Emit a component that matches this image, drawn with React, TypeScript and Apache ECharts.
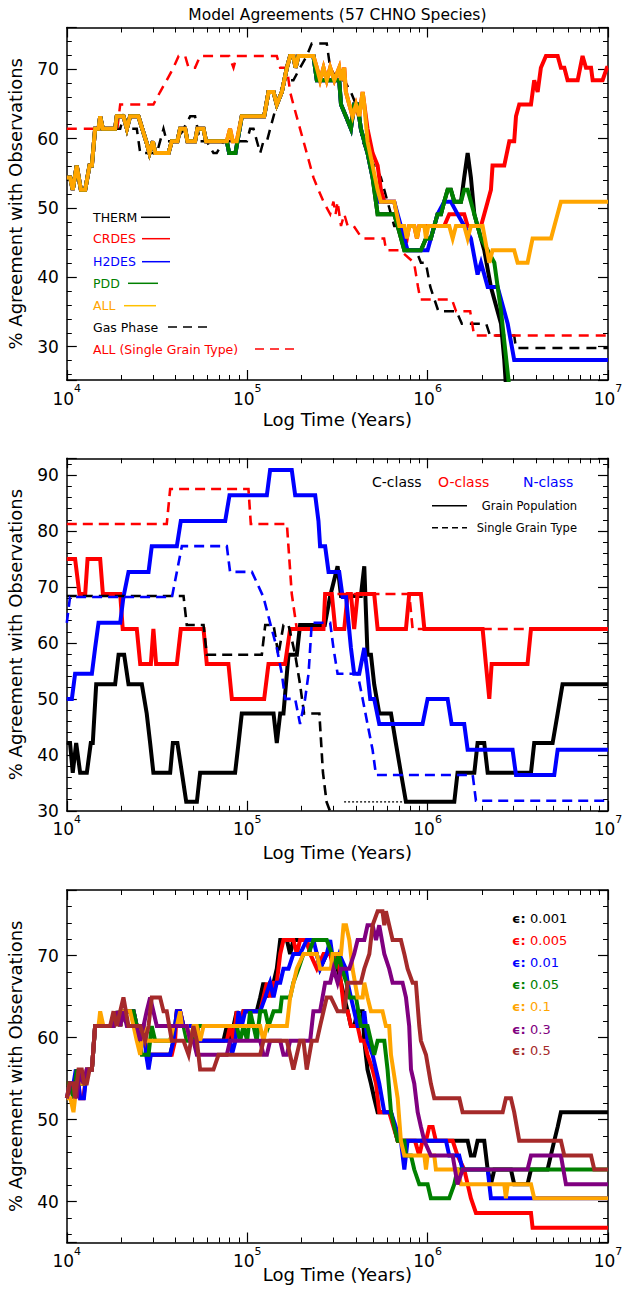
import React, { useEffect, useRef } from "react";
import * as echarts from "echarts";

type P = [number, number][];

// ---------- Panel 1 (log10 time, % agreement) ----------
const p1Early: P = [[4.000,54.4],[4.018,54.4],[4.033,52.6],[4.055,56.1],[4.078,52.6],[4.102,52.6],[4.126,56.1],[4.139,56.1],[4.157,61.4],[4.176,61.4],[4.185,63.2],[4.200,61.4],[4.268,61.4],[4.277,63.2],[4.314,63.2],[4.333,61.4],[4.351,63.2],[4.397,63.2],[4.440,59.6],[4.458,57.9],[4.477,59.6],[4.491,57.9],[4.564,57.9],[4.582,59.6],[4.613,59.6],[4.628,61.4],[4.656,61.4],[4.669,59.6],[4.711,59.6],[4.724,61.4],[4.758,61.4],[4.772,59.6],[4.887,59.6]];
const p1AllMid: P = [[4.905,61.4],[4.920,59.6],[4.942,59.6],[4.970,63.2],[5.094,63.2],[5.118,66.7],[5.146,66.7],[5.164,64.9],[5.192,66.7],[5.220,70.2],[5.238,71.9],[5.256,71.9],[5.268,70.2],[5.284,71.9],[5.367,71.9],[5.386,70.2],[5.404,68.4],[5.423,70.2],[5.441,68.4],[5.460,70.2],[5.483,68.4],[5.510,70.2],[5.520,68.4],[5.538,70.2],[5.547,66.7],[5.566,64.9],[5.584,63.2],[5.603,64.9],[5.621,63.2],[5.640,66.7],[5.649,64.9]];
const p1AllTail: P = [[5.667,59.6],[5.695,56.1],[5.723,52.6],[5.741,50.9],[5.815,50.9],[5.843,47.4],[5.871,47.4],[5.885,45.6],[5.898,47.4],[5.926,47.4],[5.941,45.6],[5.954,47.4],[5.982,47.4],[5.991,45.6],[6.004,47.4],[6.120,47.4],[6.139,45.6],[6.157,47.4],[6.203,47.4],[6.222,45.6],[6.240,47.4],[6.305,47.4],[6.342,42.1],[6.360,43.9],[6.480,43.9],[6.499,42.1],[6.554,42.1],[6.582,45.6],[6.684,45.6],[6.739,50.9],[7.0,50.9]];
const p1CrdesTail: P = [[5.667,61.4],[5.695,57.9],[5.723,56.1],[5.741,52.6],[5.760,50.9],[5.815,50.9],[5.843,47.4],[5.885,45.6],[5.898,47.4],[5.926,47.4],[5.941,45.6],[5.954,47.4],[6.092,47.4],[6.120,49.1],[6.203,49.1],[6.222,47.4],[6.296,47.4],[6.333,50.9],[6.351,52.6],[6.360,56.1],[6.425,56.1],[6.453,59.6],[6.480,59.6],[6.490,63.2],[6.508,64.9],[6.573,64.9],[6.591,68.4],[6.610,66.7],[6.628,70.2],[6.656,71.9],[6.721,71.9],[6.739,70.2],[6.758,70.2],[6.776,68.4],[6.832,68.4],[6.859,71.9],[6.878,70.2],[6.906,70.2],[6.915,68.4],[6.970,68.4],[6.994,70.2],[7.0,70.2]];
const p1GrainMid: P = [[4.900,57.9],[4.935,57.9],[4.970,63.2],[5.094,63.2],[5.118,66.7],[5.146,66.7],[5.164,64.9],[5.192,66.7],[5.220,70.2],[5.238,71.9],[5.256,71.9],[5.268,70.2],[5.284,71.9],[5.367,71.9],[5.386,68.4],[5.510,68.4],[5.520,64.9],[5.547,63.2],[5.575,61.4],[5.593,64.9],[5.612,64.9],[5.630,61.4],[5.667,57.9],[5.695,54.4]];
const p1PddTail: P = [[5.723,49.1],[5.815,49.1],[5.834,47.4],[5.871,43.9],[5.963,43.9],[5.991,45.6],[6.018,45.6],[6.037,47.4],[6.055,49.1],[6.074,49.1],[6.092,50.9],[6.111,52.6],[6.129,52.6],[6.148,50.9],[6.185,50.9],[6.203,52.6],[6.222,52.6],[6.259,49.1],[6.277,47.4],[6.296,45.6],[6.333,43.9],[6.370,42.1],[6.407,35.1],[6.470,20.0]];
const p1H2desTail: P = [[5.723,50.9],[5.815,50.9],[5.834,49.1],[5.871,45.6],[5.889,43.9],[6.000,43.9],[6.018,45.6],[6.037,47.4],[6.055,49.1],[6.092,50.9],[6.129,50.9],[6.166,49.1],[6.203,47.4],[6.240,45.6],[6.277,40.4],[6.296,42.1],[6.314,40.4],[6.333,38.6],[6.388,38.6],[6.444,33.3],[6.480,28.1],[7.0,28.1]];
const p1ThermTail: P = [[5.723,49.1],[5.815,49.1],[5.834,47.4],[5.871,43.9],[5.963,43.9],[5.991,45.6],[6.018,45.6],[6.037,47.4],[6.055,49.1],[6.074,49.1],[6.092,50.9],[6.111,52.6],[6.129,52.6],[6.148,50.9],[6.185,50.9],[6.203,54.4],[6.222,57.9],[6.240,54.4],[6.259,49.1],[6.277,47.4],[6.296,45.6],[6.314,43.9],[6.351,38.6],[6.407,33.3],[6.425,28.1],[6.445,20.0]];
const p1GasPhase: P = [[4.000,54.4],[4.018,54.4],[4.033,52.6],[4.055,56.1],[4.078,52.6],[4.102,52.6],[4.126,56.1],[4.139,56.1],[4.157,61.4],[4.296,61.4],[4.314,63.2],[4.360,61.4],[4.388,61.4],[4.407,57.9],[4.499,57.9],[4.517,59.6],[4.536,61.4],[4.554,59.6],[4.610,59.6],[4.684,63.2],[4.711,63.2],[4.739,59.6],[4.776,59.6],[4.813,57.9],[4.831,57.9],[4.868,59.6],[4.998,59.6],[5.016,61.4],[5.035,61.4],[5.072,57.9],[5.090,59.6],[5.109,59.6],[5.146,63.2],[5.183,66.7],[5.210,68.4],[5.256,68.4],[5.293,70.2],[5.330,71.9],[5.358,73.7],[5.441,73.7],[5.460,70.2],[5.501,68.4],[5.538,68.4],[5.575,66.7],[5.603,64.9],[5.640,59.6],[5.667,57.9],[5.704,56.1],[5.741,54.4],[5.778,50.9],[5.815,47.4],[5.852,47.4],[5.889,43.9],[5.936,43.9],[5.963,42.1],[5.990,42.1],[6.015,38.6],[6.060,35.1],[6.160,35.1],[6.190,33.3],[6.325,33.3],[6.346,31.6],[6.480,31.6],[6.490,29.8],[7.0,29.8]];
const p1SingleGrain: P = [[4.000,61.4],[4.280,61.4],[4.296,64.9],[4.480,64.9],[4.517,66.7],[4.554,68.4],[4.591,70.2],[4.620,71.9],[4.656,71.9],[4.675,70.2],[4.711,70.2],[4.739,71.9],[4.900,71.9],[4.924,70.2],[4.942,71.9],[5.164,71.9],[5.183,70.2],[5.220,70.2],[5.238,66.7],[5.256,64.9],[5.293,61.4],[5.330,57.9],[5.367,54.4],[5.395,52.6],[5.423,50.9],[5.460,49.1],[5.478,50.9],[5.490,49.1],[5.501,50.9],[5.520,47.4],[5.538,49.1],[5.557,47.4],[5.590,47.4],[5.637,45.6],[5.759,45.6],[5.770,43.9],[5.847,43.9],[5.925,42.1],[5.947,38.6],[5.960,36.8],[6.135,36.8],[6.158,35.1],[6.236,35.1],[6.258,31.6],[7.0,31.6]];

// ---------- Panel 2 ----------
const p2C: P = [[4.000,42.1],[4.018,42.1],[4.033,36.8],[4.052,42.1],[4.074,36.8],[4.111,36.8],[4.133,42.1],[4.144,42.1],[4.163,52.6],[4.268,52.6],[4.287,57.9],[4.318,57.9],[4.342,52.6],[4.416,52.6],[4.443,47.4],[4.462,42.1],[4.480,36.8],[4.573,36.8],[4.588,42.1],[4.613,42.1],[4.638,36.8],[4.662,31.6],[4.721,31.6],[4.739,36.8],[4.933,36.8],[4.952,42.1],[4.970,47.4],[5.146,47.4],[5.164,42.1],[5.183,47.4],[5.201,47.4],[5.229,57.9],[5.275,57.9],[5.293,63.2],[5.430,63.2],[5.460,68.4],[5.501,73.7],[5.520,68.4],[5.630,68.4],[5.649,73.7],[5.667,57.9],[5.686,57.9],[5.704,52.6],[5.732,47.4],[5.797,47.4],[5.824,42.1],[5.852,36.8],[5.880,31.6],[6.148,31.6],[6.166,36.8],[6.259,36.8],[6.277,42.1],[6.314,42.1],[6.333,36.8],[6.573,36.8],[6.591,42.1],[6.693,42.1],[6.721,47.4],[6.748,52.6],[7.0,52.6]];
const p2O: P = [[4.000,75],[4.046,75],[4.070,68.75],[4.102,68.75],[4.115,75],[4.185,75],[4.200,68.75],[4.296,68.75],[4.310,62.5],[4.388,62.5],[4.407,56.25],[4.466,56.25],[4.480,62.5],[4.495,56.25],[4.610,56.25],[4.632,62.5],[4.758,62.5],[4.776,56.25],[4.896,56.25],[4.915,50],[5.094,50],[5.118,56.25],[5.210,56.25],[5.238,62.5],[5.423,62.5],[5.432,68.75],[5.469,68.75],[5.488,62.5],[5.538,62.5],[5.557,68.75],[5.575,68.75],[5.593,62.5],[5.612,68.75],[5.704,68.75],[5.723,62.5],[5.880,62.5],[5.898,68.75],[5.963,68.75],[5.982,62.5],[6.305,62.5],[6.323,56.25],[6.342,50],[6.355,56.25],[6.554,56.25],[6.573,62.5],[7.0,62.5]];
const p2N: P = [[4.000,50],[4.028,50],[4.046,54.5],[4.139,54.5],[4.157,59.1],[4.176,63.6],[4.296,63.6],[4.314,68.2],[4.342,72.7],[4.453,72.7],[4.471,77.3],[4.610,77.3],[4.632,81.8],[4.878,81.8],[4.902,86.4],[5.109,86.4],[5.127,90.9],[5.247,90.9],[5.266,86.4],[5.377,86.4],[5.395,81.8],[5.404,77.3],[5.432,77.3],[5.451,72.7],[5.510,72.7],[5.529,68.2],[5.548,68.2],[5.575,59.1],[5.593,54.5],[5.621,54.5],[5.649,59.1],[5.667,54.5],[5.682,50],[5.704,50],[5.732,45.5],[5.972,45.5],[6.000,50],[6.111,50],[6.133,45.5],[6.203,45.5],[6.222,40.9],[6.471,40.9],[6.490,36.4],[6.702,36.4],[6.721,40.9],[7.0,40.9]];
const p2CSingle: P = [[4.000,68.4],[4.647,68.4],[4.665,63.2],[4.758,63.2],[4.776,57.9],[5.081,57.9],[5.100,63.2],[5.146,63.2],[5.173,57.9],[5.201,63.2],[5.229,63.2],[5.266,57.9],[5.293,52.6],[5.315,47.4],[5.400,47.4],[5.420,36.8],[5.440,31.6],[5.470,29.0]];
const p2CSingleLate: P = [[5.537,31.6],[5.880,31.6]];
const p2OSingle: P = [[4.000,81.25],[4.554,81.25],[4.573,87.5],[5.007,87.5],[5.020,81.25],[5.220,81.25],[5.247,68.75],[5.275,62.5],[5.423,62.5],[5.432,68.75],[5.898,68.75],[5.917,62.5],[7.0,62.5]];
const p2NSingle: P = [[4.000,63.6],[4.018,68.2],[4.583,68.2],[4.610,72.7],[4.638,77.3],[4.887,77.3],[4.905,72.7],[5.026,72.7],[5.090,68.2],[5.127,63.6],[5.164,59.1],[5.192,54.5],[5.210,50],[5.266,50],[5.293,45.5],[5.321,50],[5.340,54.5],[5.358,63.6],[5.460,63.6],[5.478,59.1],[5.501,54.5],[5.612,54.5],[5.640,50],[5.667,45.5],[5.695,40.9],[5.714,36.4],[6.250,36.4],[6.268,31.8],[7.0,31.8]];

// ---------- Panel 3 ----------
const p3E0001: P = [[4.000,54.4],[4.020,54.4],[4.037,52.6],[4.055,56.1],[4.074,54.4],[4.100,54.4],[4.120,56.1],[4.139,56.1],[4.157,61.4],[4.259,61.4],[4.277,63.2],[4.296,61.4],[4.314,63.2],[4.370,63.2],[4.388,61.4],[4.425,61.4],[4.443,57.9],[4.573,57.9],[4.591,59.6],[4.610,63.2],[4.628,63.2],[4.647,61.4],[4.721,61.4],[4.739,59.6],[4.868,59.6],[4.887,61.4],[4.905,59.6],[4.924,61.4],[4.942,63.2],[4.961,61.4],[4.979,63.2],[5.053,63.2],[5.072,64.9],[5.090,66.7],[5.109,64.9],[5.127,66.7],[5.146,66.7],[5.164,68.4],[5.183,71.9],[5.220,71.9],[5.238,70.2],[5.256,71.9],[5.330,71.9],[5.349,70.2],[5.386,70.2],[5.404,68.4],[5.441,70.2],[5.478,70.2],[5.501,68.4],[5.520,66.7],[5.538,64.9],[5.557,63.2],[5.575,61.4],[5.593,61.4],[5.612,63.2],[5.640,63.2],[5.649,59.6],[5.667,56.1],[5.686,54.4],[5.704,52.6],[5.723,50.9],[5.797,50.9],[5.815,49.1],[5.834,47.4],[6.222,47.4],[6.240,45.6],[6.259,45.6],[6.277,47.4],[6.314,47.4],[6.333,43.9],[6.351,42.1],[6.370,43.9],[6.462,43.9],[6.480,42.1],[6.554,42.1],[6.573,43.9],[6.665,43.9],[6.702,47.4],[6.721,49.1],[6.739,50.9],[7.0,50.9]];
const p3E0005: P = [[4.000,54.4],[4.020,54.4],[4.037,52.6],[4.055,56.1],[4.074,52.6],[4.092,52.6],[4.111,56.1],[4.139,56.1],[4.157,61.4],[4.259,61.4],[4.277,63.2],[4.296,61.4],[4.314,63.2],[4.370,63.2],[4.388,61.4],[4.425,61.4],[4.443,57.9],[4.582,57.9],[4.600,59.6],[4.610,63.2],[4.628,63.2],[4.647,61.4],[4.721,61.4],[4.739,59.6],[4.887,59.6],[4.905,61.4],[4.924,59.6],[4.942,63.2],[4.961,61.4],[4.979,63.2],[5.072,63.2],[5.090,64.9],[5.109,66.7],[5.127,64.9],[5.146,66.7],[5.164,66.7],[5.183,70.2],[5.201,71.9],[5.256,71.9],[5.275,70.2],[5.293,71.9],[5.330,71.9],[5.349,70.2],[5.386,68.4],[5.423,70.2],[5.460,70.2],[5.478,68.4],[5.501,70.2],[5.520,66.7],[5.538,63.2],[5.557,63.2],[5.575,61.4],[5.612,61.4],[5.630,59.6],[5.649,59.6],[5.667,57.9],[5.695,56.1],[5.714,54.4],[5.732,50.9],[5.787,50.9],[5.834,47.4],[5.930,47.4],[5.954,45.6],[5.972,47.4],[5.991,47.4],[6.009,49.1],[6.028,49.1],[6.046,47.4],[6.139,47.4],[6.166,45.6],[6.203,43.9],[6.222,42.1],[6.240,40.4],[6.268,38.6],[6.573,38.6],[6.582,36.8],[7.0,36.8]];
const p3E001: P = [[4.000,52.6],[4.018,54.4],[4.037,54.4],[4.050,56.1],[4.065,54.4],[4.074,52.6],[4.095,52.6],[4.111,56.1],[4.139,56.1],[4.157,61.4],[4.259,61.4],[4.277,63.2],[4.296,61.4],[4.314,63.2],[4.370,63.2],[4.388,61.4],[4.425,61.4],[4.440,57.9],[4.453,56.1],[4.466,57.9],[4.573,57.9],[4.591,59.6],[4.610,63.2],[4.628,63.2],[4.647,61.4],[4.721,61.4],[4.739,59.6],[4.905,59.6],[4.915,57.9],[4.935,59.6],[4.952,63.2],[4.970,61.4],[4.989,63.2],[5.072,63.2],[5.100,64.9],[5.127,66.7],[5.146,64.9],[5.164,66.7],[5.183,66.7],[5.201,68.4],[5.229,68.4],[5.256,70.2],[5.293,70.2],[5.330,71.9],[5.367,71.9],[5.386,70.2],[5.404,68.4],[5.441,70.2],[5.460,71.9],[5.483,68.4],[5.510,70.2],[5.547,68.4],[5.557,66.7],[5.575,64.9],[5.593,63.2],[5.612,61.4],[5.640,61.4],[5.649,63.2],[5.667,59.6],[5.695,57.9],[5.714,56.1],[5.732,54.4],[5.760,50.9],[5.797,50.9],[5.824,49.1],[5.852,47.4],[5.871,43.9],[5.889,47.4],[6.102,47.4],[6.120,45.6],[6.175,45.6],[6.194,43.9],[6.333,43.9],[6.351,40.4],[7.0,40.4]];
const p3E005: P = [[4.000,54.4],[4.020,54.4],[4.037,52.6],[4.055,56.1],[4.074,54.4],[4.100,54.4],[4.120,56.1],[4.139,56.1],[4.157,61.4],[4.259,61.4],[4.277,63.2],[4.296,61.4],[4.314,63.2],[4.370,63.2],[4.388,61.4],[4.416,57.9],[4.453,57.9],[4.471,61.4],[4.490,59.6],[4.573,59.6],[4.591,61.4],[4.647,61.4],[4.665,59.6],[4.702,59.6],[4.721,61.4],[4.942,61.4],[4.961,59.6],[4.979,61.4],[5.000,59.6],[5.016,63.2],[5.035,61.4],[5.053,59.6],[5.072,63.2],[5.100,63.2],[5.118,61.4],[5.146,63.2],[5.183,63.2],[5.192,64.9],[5.238,64.9],[5.256,66.7],[5.284,68.4],[5.312,70.2],[5.340,70.2],[5.367,71.9],[5.441,71.9],[5.469,70.2],[5.488,68.4],[5.506,70.2],[5.525,68.4],[5.550,66.7],[5.566,64.9],[5.603,64.9],[5.630,61.4],[5.667,61.4],[5.686,59.6],[5.704,57.9],[5.723,59.6],[5.760,59.6],[5.778,56.1],[5.797,50.9],[5.815,49.1],[5.834,47.4],[5.871,47.4],[5.880,45.6],[5.908,45.6],[5.926,43.9],[5.954,42.1],[6.000,42.1],[6.018,40.4],[6.120,40.4],[6.148,42.1],[6.166,43.9],[7.0,43.9]];
const p3E01: P = [[4.000,52.6],[4.020,52.6],[4.037,50.9],[4.055,54.4],[4.092,54.4],[4.111,56.1],[4.139,56.1],[4.157,61.4],[4.176,61.4],[4.185,63.2],[4.203,61.4],[4.259,61.4],[4.277,63.2],[4.296,61.4],[4.314,63.2],[4.351,63.2],[4.370,61.4],[4.388,59.6],[4.407,57.9],[4.425,61.4],[4.443,59.6],[4.573,59.6],[4.591,61.4],[4.610,61.4],[4.628,63.2],[4.638,61.4],[4.665,61.4],[4.684,59.6],[4.702,61.4],[4.721,61.4],[4.739,59.6],[4.758,61.4],[5.072,61.4],[5.090,59.6],[5.109,61.4],[5.220,61.4],[5.238,64.9],[5.275,68.4],[5.312,70.2],[5.386,70.2],[5.404,68.4],[5.464,68.4],[5.473,70.2],[5.520,70.2],[5.534,73.7],[5.548,73.7],[5.566,71.9],[5.584,68.4],[5.612,64.9],[5.640,64.9],[5.649,66.7],[5.667,64.9],[5.686,63.2],[5.750,63.2],[5.769,61.4],[5.787,61.4],[5.797,57.9],[5.834,52.6],[5.852,47.4],[5.871,45.6],[5.982,45.6],[5.991,43.9],[6.000,45.6],[6.037,45.6],[6.046,43.9],[6.166,43.9],[6.185,42.1],[6.425,42.1],[6.434,40.4],[6.444,42.1],[6.573,42.1],[6.591,40.4],[7.0,40.4]];
const p3E03: P = [[4.000,52.6],[4.020,54.4],[4.037,54.4],[4.055,52.6],[4.074,56.1],[4.092,54.4],[4.111,56.1],[4.139,56.1],[4.157,61.4],[4.259,61.4],[4.277,63.2],[4.296,61.4],[4.314,63.2],[4.333,61.4],[4.388,61.4],[4.407,59.6],[4.425,61.4],[4.443,63.2],[4.462,64.9],[4.480,63.2],[4.499,61.4],[4.665,61.4],[4.684,59.6],[4.702,59.6],[4.721,57.9],[4.887,57.9],[4.905,59.6],[5.072,59.6],[5.090,57.9],[5.109,57.9],[5.127,59.6],[5.183,59.6],[5.201,57.9],[5.220,57.9],[5.238,59.6],[5.349,59.6],[5.367,63.2],[5.404,63.2],[5.432,66.7],[5.460,66.7],[5.478,68.4],[5.501,66.7],[5.520,68.4],[5.566,68.4],[5.593,70.2],[5.612,71.9],[5.649,71.9],[5.667,73.7],[5.695,73.7],[5.714,71.9],[5.732,73.7],[5.760,70.2],[5.787,68.4],[5.806,66.7],[5.861,66.7],[5.880,64.9],[5.898,61.4],[5.908,56.1],[5.926,54.4],[5.945,50.9],[5.963,49.1],[5.982,47.4],[6.018,45.6],[6.139,45.6],[6.166,42.1],[6.194,43.9],[6.554,43.9],[6.573,45.6],[6.739,45.6],[6.767,42.1],[7.0,42.1]];
const p3E05: P = [[4.000,52.6],[4.015,54.4],[4.037,54.4],[4.046,52.6],[4.065,56.1],[4.083,56.1],[4.096,54.4],[4.111,54.4],[4.126,56.1],[4.139,56.1],[4.157,61.4],[4.240,61.4],[4.259,63.2],[4.277,61.4],[4.296,63.2],[4.314,64.9],[4.342,61.4],[4.407,61.4],[4.434,59.6],[4.453,61.4],[4.471,64.9],[4.517,64.9],[4.536,63.2],[4.554,63.2],[4.582,59.6],[4.647,59.6],[4.675,57.9],[4.702,61.4],[4.721,59.6],[4.739,56.1],[4.813,56.1],[4.841,57.9],[5.072,57.9],[5.090,59.6],[5.220,59.6],[5.256,56.1],[5.293,59.6],[5.312,59.6],[5.330,56.1],[5.358,59.6],[5.386,59.6],[5.404,61.4],[5.423,63.2],[5.441,64.9],[5.464,64.9],[5.501,63.2],[5.538,63.2],[5.557,66.7],[5.630,66.7],[5.649,68.4],[5.677,70.2],[5.695,73.7],[5.723,75.4],[5.750,75.4],[5.760,73.7],[5.769,75.4],[5.787,73.7],[5.806,71.9],[5.852,71.9],[5.871,70.2],[5.889,68.4],[5.917,66.7],[5.935,66.7],[5.954,61.4],[5.963,59.6],[5.991,57.9],[6.018,54.4],[6.037,52.6],[6.176,52.6],[6.194,50.9],[6.416,50.9],[6.434,52.6],[6.462,52.6],[6.480,50.9],[6.508,47.4],[6.739,47.4],[6.758,45.6],[6.906,45.6],[6.924,43.9],[7.0,43.9]];

// ---------- axis ticks / labels ----------
const timeMin = 1e4;
const timeMax = 1e7;
const yRanges: [number, number][] = [[25.2, 76], [30, 93], [35, 78]];
const yMinLabel = [false, true, false];

const p1Labels = ["THERM", "CRDES", "H2DES", "PDD", "ALL", "Gas Phase", "ALL (Single Grain Type)"];
const p2ClassLabels = ["C-class", "O-class", "N-class"];
const p2StyleLabels = ["Grain Population", "Single Grain Type"];
const p3Labels = ["0.001", "0.005", "0.01", "0.05", "0.1", "0.3", "0.5"];

const FONT = '"DejaVu Sans", Verdana, sans-serif';
const BLACK = "#000000";
const RED = "#ff0000";
const BLUE = "#0000ff";
const GREEN = "#008000";
const ORANGE = "#ffa500";
const PURPLE = "#800080";
const BROWN = "#a52a2a";

const GRID_LEFT = 66.8;
const GRID_W = 541.2;
const GRID_TOPS = [27.5, 458.3, 890];
const GRID_H = 352.5;

function App() {
  const ref = useRef<HTMLDivElement>(null);
  useEffect(() => {
    if (!ref.current) return;
    const chart = echarts.init(ref.current, null, { renderer: "svg" });

    const toXY = (d: P) => d.map(([lt, v]) => [Math.pow(10, lt), v]);
    const line = (g: number, d: P, color: string, width: number, dash?: number[] | string) => ({
      type: "line",
      xAxisIndex: g * 2,
      yAxisIndex: g * 2,
      data: toXY(d),
      symbol: "none",
      showSymbol: false,
      silent: true,
      clip: true,
      lineStyle: { color, width, type: dash || "solid", cap: "butt", join: "miter" },
      emphasis: { disabled: true },
    });

    const xAxes: any[] = [];
    const yAxes: any[] = [];
    const grids: any[] = [];
    for (let g = 0; g < 3; g++) {
      grids.push({ left: GRID_LEFT, top: GRID_TOPS[g], width: GRID_W, height: GRID_H, containLabel: false, outerBoundsMode: "none" });
      const common = {
        gridIndex: g,
        axisLine: { show: true, onZero: false, lineStyle: { color: BLACK, width: 1.5 } },
        axisTick: { show: true, inside: true, length: 10, lineStyle: { color: BLACK, width: 1.2 } },
        splitLine: { show: false },
        minorSplitLine: { show: false },
      };
      for (const pos of ["bottom", "top"]) {
        xAxes.push({
          ...common,
          type: "log",
          logBase: 10,
          min: timeMin,
          max: timeMax,
          position: pos,
          minorTick: { show: true, splitNumber: 9, length: 5, lineStyle: { color: BLACK, width: 1 } },
          axisLabel: pos === "bottom" ? {
            show: true,
            margin: 3,
            formatter: (v: number) => `{b|10}{s|${Math.round(Math.log10(v))}}`,
            rich: {
              b: { fontSize: 17, fontFamily: FONT, color: BLACK, lineHeight: 24, verticalAlign: "bottom" },
              s: { fontSize: 11, fontFamily: FONT, color: BLACK, lineHeight: 24, verticalAlign: "top" },
            },
          } : { show: false },
        });
      }
      for (const pos of ["left", "right"]) {
        yAxes.push({
          ...common,
          type: "value",
          min: yRanges[g][0],
          max: yRanges[g][1],
          splitNumber: 5,
          position: pos,
          minorTick: { show: true, splitNumber: 5, length: 5, lineStyle: { color: BLACK, width: 1 } },
          axisLabel: pos === "left" ? {
            show: true, margin: 8, fontSize: 17, fontFamily: FONT, color: BLACK,
            showMinLabel: yMinLabel[g], showMaxLabel: false,
          } : { show: false },
        });
      }
    }

    const series: any[] = [
      line(0, p1GasPhase, BLACK, 2.5, [10, 7]),
      line(0, p1SingleGrain, RED, 2.5, [10, 7]),
      line(0, [...p1Early, ...p1GrainMid, ...p1ThermTail], BLACK, 4),
      line(0, [...p1Early, ...p1AllMid, ...p1CrdesTail], RED, 4),
      line(0, [...p1Early, ...p1GrainMid, ...p1H2desTail], BLUE, 4),
      line(0, [...p1Early, ...p1GrainMid, ...p1PddTail], GREEN, 4),
      line(0, [...p1Early, ...p1AllMid, ...p1AllTail], ORANGE, 4),

      line(1, p2C, BLACK, 4),
      line(1, p2O, RED, 4),
      line(1, p2N, BLUE, 4),
      line(1, p2CSingle, BLACK, 2.6, [10, 6]),
      line(1, p2CSingleLate, BLACK, 1.2, [2, 2]),
      line(1, p2OSingle, RED, 2.6, [10, 6]),
      line(1, p2NSingle, BLUE, 2.6, [10, 6]),

      line(2, p3E0001, BLACK, 4),
      line(2, p3E0005, RED, 4),
      line(2, p3E001, BLUE, 4),
      line(2, p3E005, GREEN, 4),
      line(2, p3E01, ORANGE, 4),
      line(2, p3E03, PURPLE, 4),
      line(2, p3E05, BROWN, 4),
    ];

    const txt = (x: number, y: number, text: string, fill: string, size: number, align = "left", extra: any = {}) => ({
      type: "text",
      x, y,
      silent: true,
      ...extra,
      style: {
        text, fill, fontSize: size, fontFamily: FONT,
        align, verticalAlign: "middle", textAlign: align, textVerticalAlign: "middle",
        fontWeight: extra.fontWeight || "normal",
      },
    });
    const seg = (x1: number, x2: number, y: number, stroke: string, dash?: number[]) => ({
      type: "line", silent: true,
      shape: { x1, y1: y, x2, y2: y },
      style: { stroke, lineWidth: 1.5, lineDash: dash || null },
    });

    const cx = GRID_LEFT + GRID_W / 2;
    const p1Colors = [BLACK, RED, BLUE, GREEN, ORANGE, BLACK, RED];
    const p1Y = [217.3, 238.7, 261.7, 283.3, 305.7, 327, 349];
    const p1Seg: [number, number][] = [[141, 170], [142, 170], [142, 170], [128, 158], [124, 156], [168, 210], [255, 295]];
    const p3Colors = [BLACK, RED, BLUE, GREEN, ORANGE, PURPLE, BROWN];
    const p3Y = [918.3, 940.3, 962.3, 984.3, 1006.7, 1029, 1050.7];

    const elements: any[] = [
      txt(cx, 15, "Model Agreements (57 CHNO Species)", BLACK, 15.5, "center"),
      txt(cx, 419, "Log Time (Years)", BLACK, 18, "center"),
      txt(cx, 852, "Log Time (Years)", BLACK, 18, "center"),
      txt(cx, 1274, "Log Time (Years)", BLACK, 18, "center"),
    ];
    GRID_TOPS.forEach((t) => {
      elements.push(txt(15, t + GRID_H / 2, "% Agreement with Observations", BLACK, 18, "center", { rotation: Math.PI / 2 }));
    });
    p1Labels.forEach((l, i) => {
      elements.push(txt(93, p1Y[i], l, p1Colors[i], 12.5));
      elements.push(seg(p1Seg[i][0], p1Seg[i][1], p1Y[i], i === 4 ? "#ffc000" : p1Colors[i], i >= 5 ? [9, 6] : undefined));
    });
    const p2ClassX = [372, 438, 523];
    const p2ClassColors = [BLACK, RED, BLUE];
    p2ClassLabels.forEach((l, i) => elements.push(txt(p2ClassX[i], 482.3, l, p2ClassColors[i], 14)));
    elements.push(txt(577, 505.7, p2StyleLabels[0], BLACK, 11.5, "right"));
    elements.push(txt(577, 527.7, p2StyleLabels[1], BLACK, 11.5, "right"));
    elements.push(seg(432, 467, 505.7, BLACK));
    elements.push(seg(432, 467, 527.7, BLACK, [6, 4]));
    p3Labels.forEach((l, i) => {
      elements.push(txt(512, p3Y[i], "\u03f5:", p3Colors[i], 13, "left", { fontWeight: "bold" }));
      elements.push(txt(530, p3Y[i], l, p3Colors[i], 13));
    });

    chart.setOption({
      animation: false,
      backgroundColor: "#ffffff",
      grid: grids,
      xAxis: xAxes,
      yAxis: yAxes,
      series,
      graphic: { elements },
    });
    return () => chart.dispose();
  }, []);
  return <div ref={ref} style={{ position: "absolute", left: 0, top: 0, width: 625, height: 1295 }} />;
}

export default App;
